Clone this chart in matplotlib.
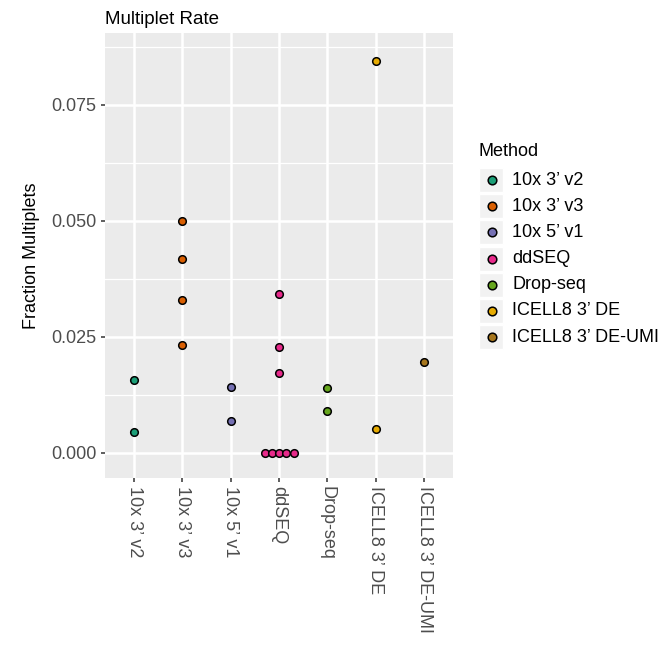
import matplotlib
matplotlib.use("Agg")
import matplotlib.pyplot as plt
from matplotlib.patches import Rectangle
from matplotlib.lines import Line2D
import numpy as np

plt.rcParams['font.family'] = ['Liberation Sans', 'DejaVu Sans']

methods = ["10x 3\u2019 v2", "10x 3\u2019 v3", "10x 5\u2019 v1", "ddSEQ",
           "Drop-seq", "ICELL8 3\u2019 DE", "ICELL8 3\u2019 DE-UMI"]
colors = ["#1B9E77", "#D95F02", "#7570B3", "#E7298A",
          "#66A61E", "#E6AB02", "#A6761D"]

v2 = [0.0157, 0.0044]
v3 = [0.0500, 0.0418, 0.0329, 0.0233]
v5 = [0.0142, 0.0068]
ddseq = [0.0342, 0.0228, 0.0172, 0.0, 0.0, 0.0, 0.0, 0.0]
dropseq = [0.0140, 0.0090]
icell8 = [0.0845, 0.0050]
icell8_umi = [0.0196]
values = [v2, v3, v5, ddseq, dropseq, icell8, icell8_umi]

W, H = 669, 645
fig = plt.figure(figsize=(W / 100, H / 100), dpi=100)
ax = fig.add_axes([105 / W, 1 - 478 / H, (453 - 105) / W, (478 - 33) / H])
ax.set_facecolor("#EBEBEB")
for s in ax.spines.values():
    s.set_visible(False)

step = 0.15
for i, (vals, col) in enumerate(zip(values, colors)):
    vals = np.array(vals)
    xs = np.full(len(vals), float(i + 1))
    for u in np.unique(vals):
        idx = np.where(vals == u)[0]
        n = len(idx)
        xs[idx] = (i + 1) + (np.arange(n) - (n - 1) / 2) * step
    ax.scatter(xs, vals, s=30, c=col, edgecolors="black", linewidths=1.1, zorder=3)

ax.set_xlim(0.4, 7.6)
ax.set_ylim(-0.0055, 0.0905)
ax.set_xticks(range(1, 8))
ax.set_xticklabels(methods, rotation=270, va="top", ha="center")
yt = [0.0, 0.025, 0.05, 0.075]
ax.set_yticks(yt)
ax.set_yticklabels(["0.000", "0.025", "0.050", "0.075"])
ax.set_yticks([0.0125, 0.0375, 0.0625, 0.0875], minor=True)
ax.tick_params(axis="both", which="major", length=3, width=1.1, color="#333333",
               labelcolor="#4D4D4D", labelsize=13, pad=3)
ax.tick_params(axis="y", which="minor", length=0)
ax.grid(True, which="major", color="white", linewidth=1.8, zorder=0)
ax.grid(True, which="minor", axis="y", color="white", linewidth=0.9, zorder=0)
ax.set_axisbelow(True)
ax.set_ylabel("Fraction Multiplets", fontsize=13, color="black", labelpad=8)

fig.text(105 / W, 1 - 19 / H, "Multiplet Rate", fontsize=13.5, ha="left", va="center")
fig.text(456 / W, 1 + 8 / H, "(Human\u2013Mouse cells by platform)", fontsize=13,
         fontweight="bold", ha="center", va="baseline")

# legend
fig.text(479 / W, 1 - 152 / H, "Method", fontsize=13, ha="left", va="center")
for k, (m, col) in enumerate(zip(methods, colors)):
    yc = 180 + k * 26.2
    fig.patches.append(Rectangle(((479) / W, 1 - (yc + 12) / H), 24 / W, 24 / H,
                                 transform=fig.transFigure, facecolor="#F2F2F2",
                                 edgecolor="white", linewidth=1))
    fig.lines.append(Line2D([491.5 / W], [1 - yc / H], transform=fig.transFigure,
                            marker="o", markersize=6.2, markerfacecolor=col,
                            markeredgecolor="black", markeredgewidth=1.1, linestyle=""))
    fig.text(512.5 / W, 1 - yc / H, m, fontsize=13, ha="left", va="center")

fig.savefig("out.png", dpi=100, facecolor="white")
